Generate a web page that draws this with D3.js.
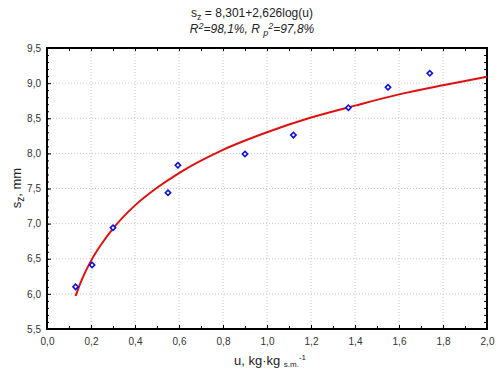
<!DOCTYPE html>
<html><head><meta charset="utf-8">
<script src="https://cdn.jsdelivr.net/npm/d3@7"></script>
<style>body{margin:0;background:#fff}svg{display:block;font-family:"Liberation Sans",Arial,sans-serif}</style>
</head><body>
<svg id="c" width="500" height="380"></svg>
<script>
const obsU = [0.13, 0.205, 0.30, 0.55, 0.595, 0.90, 1.12, 1.37, 1.55, 1.74];
const obsS = [6.10, 6.41, 6.94, 7.44, 7.83, 7.99, 8.26, 8.65, 8.94, 9.14];
const fitU = [0.13, 0.15, 0.2, 0.25, 0.3, 0.4, 0.5, 0.6, 0.8, 1.0, 1.2, 1.4, 1.6, 1.8, 2.0];
const fitS = [5.97, 6.14, 6.47, 6.72, 6.93, 7.26, 7.51, 7.72, 8.05, 8.30, 8.51, 8.68, 8.84, 8.97, 9.09];
const xTicks = [0,0.2,0.4,0.6,0.8,1.0,1.2,1.4,1.6,1.8,2.0];
const yTicks = [5.5,6.0,6.5,7.0,7.5,8.0,8.5,9.0,9.5];

const svg = d3.select("#c");
const L=47,R=487,T=48,B=329;
const x = d3.scaleLinear().domain([0,2]).range([L,R]);
const y = d3.scaleLinear().domain([5.5,9.5]).range([B,T]);
const fmt = d => d3.format(".1f")(d).replace(".", ",");

// grid
const g = svg.append("g");
g.selectAll(".gx").data(xTicks.slice(1,-1)).join("line")
 .attr("x1",d=>x(d)).attr("x2",d=>x(d)).attr("y1",T).attr("y2",B)
 .attr("stroke","#c8c8c8").attr("stroke-dasharray","1,2");
g.selectAll(".gy").data(yTicks.slice(1,-1)).join("line")
 .attr("y1",d=>y(d)).attr("y2",d=>y(d)).attr("x1",L).attr("x2",R)
 .attr("stroke","#c8c8c8").attr("stroke-dasharray","1,2");

// axes with inward ticks
const fs = "10px", tc = "#333";
const ax = svg.append("g").attr("transform",`translate(0,${B})`)
 .call(d3.axisBottom(x).tickValues(xTicks).tickSize(-4).tickPadding(9).tickFormat(fmt));
const axm = svg.append("g").attr("transform",`translate(0,${B})`)
 .call(d3.axisBottom(x).tickValues(d3.range(0.1,2,0.2)).tickSize(-3).tickFormat(""));
const axt = svg.append("g").attr("transform",`translate(0,${T})`)
 .call(d3.axisTop(x).tickValues(d3.range(0,2.01,0.1)).tickSize(-3).tickFormat(""));
const ay = svg.append("g").attr("transform",`translate(${L},0)`)
 .call(d3.axisLeft(y).tickValues(yTicks).tickSize(-4).tickPadding(6).tickFormat(fmt));
const aym = svg.append("g").attr("transform",`translate(${L},0)`)
 .call(d3.axisLeft(y).tickValues(d3.range(5.6,9.5,0.1)).tickSize(-2).tickFormat(""));
const ayr = svg.append("g").attr("transform",`translate(${R},0)`)
 .call(d3.axisRight(y).tickValues(d3.range(5.5,9.51,0.1)).tickSize(-3).tickFormat(""));
[ax,axm,axt,ay,aym,ayr].forEach(a=>{
  a.select(".domain").remove();
  a.selectAll("line").attr("stroke","#000");
  a.selectAll("text").attr("font-size",fs).attr("fill",tc).attr("font-family","Liberation Sans, Arial, sans-serif");
});
svg.append("rect").attr("x",L).attr("y",T).attr("width",R-L).attr("height",B-T)
 .attr("fill","none").attr("stroke","#000").attr("stroke-width",2);

// fitted curve
const fit = fitU.map((u,i)=>[u,fitS[i]]);
svg.append("path").datum(fit)
 .attr("d",d3.line().x(d=>x(d[0])).y(d=>y(d[1])).curve(d3.curveMonotoneX))
 .attr("fill","none").attr("stroke","#e01010").attr("stroke-width",2);

// points
const obs = obsU.map((u,i)=>[u,obsS[i]]);
svg.selectAll(".pt").data(obs).join("path")
 .attr("transform",d=>`translate(${x(d[0])},${y(d[1])}) rotate(45)`)
 .attr("d",d3.symbol().type(d3.symbolSquare).size(14))
 .attr("fill","#fff").attr("stroke","#1010e0").attr("stroke-width",1.6);

// titles
const t1 = svg.append("text").attr("x",252).attr("y",17).attr("text-anchor","middle")
 .attr("font-size","12px").attr("fill","#222");
t1.append("tspan").text("s");
t1.append("tspan").attr("font-size","9px").attr("dy",3).text("z");
t1.append("tspan").attr("dy",-3).text(" = 8,301+2,626log(u)");
const t2 = svg.append("text").attr("x",252).attr("y",33).attr("text-anchor","middle")
 .attr("font-size","12px").attr("font-style","italic").attr("fill","#222");
t2.append("tspan").text("R");
t2.append("tspan").attr("font-size","9px").attr("dy",-4).text("2");
t2.append("tspan").attr("dy",4).text("=98,1%, R ");
t2.append("tspan").attr("font-size","9px").attr("dy",3).text("p");
t2.append("tspan").attr("font-size","9px").attr("dy",-7).text("2");
t2.append("tspan").attr("dy",4).text("=97,8%");

// axis labels
const yl = svg.append("text").attr("transform","translate(21,188) rotate(-90)")
 .attr("text-anchor","middle").attr("font-size","13px").attr("fill","#222");
yl.append("tspan").text("s");
yl.append("tspan").attr("font-size","10px").attr("dy",3).text("z");
yl.append("tspan").attr("dy",-3).text(", mm");
const xl = svg.append("text").attr("x",270).attr("y",365).attr("text-anchor","middle")
 .attr("font-size","13px").attr("fill","#222");
xl.append("tspan").text("u,  kg·kg ");
xl.append("tspan").attr("font-size","8px").attr("dy",2).text("s.m.");
xl.append("tspan").attr("font-size","8px").attr("dy",-7).text("-1");
</script>
</body></html>
